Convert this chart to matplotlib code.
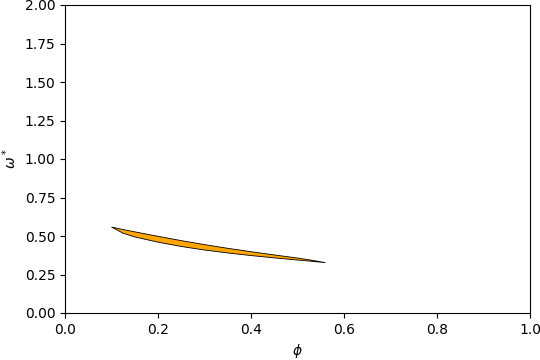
import numpy as np
import matplotlib
matplotlib.use("Agg")
import matplotlib.pyplot as plt

phi = [0.10, 0.125, 0.15, 0.20, 0.25, 0.30, 0.35, 0.40, 0.45, 0.50, 0.53, 0.56]
omega_upper = [0.558, 0.542, 0.527, 0.498, 0.470, 0.444, 0.420, 0.398, 0.377, 0.357, 0.343, 0.327]
omega_lower = [0.558, 0.518, 0.494, 0.460, 0.432, 0.409, 0.390, 0.373, 0.358, 0.344, 0.336, 0.327]

fig = plt.figure(figsize=(5.4, 3.6), dpi=100)
ax = fig.add_axes([65/540, 1-313/360, 465/540, 308/360])

xs = np.concatenate([phi, phi[::-1]])
ys = np.concatenate([omega_upper, omega_lower[::-1]])
ax.fill(xs, ys, facecolor="orange", edgecolor="black", linewidth=0.6)

ax.set_xlim(0, 1)
ax.set_ylim(0, 2)
ax.set_xlabel(r"$\phi$")
ax.set_ylabel(r"$\omega^*$")

fig.savefig("out.png", dpi=100)
